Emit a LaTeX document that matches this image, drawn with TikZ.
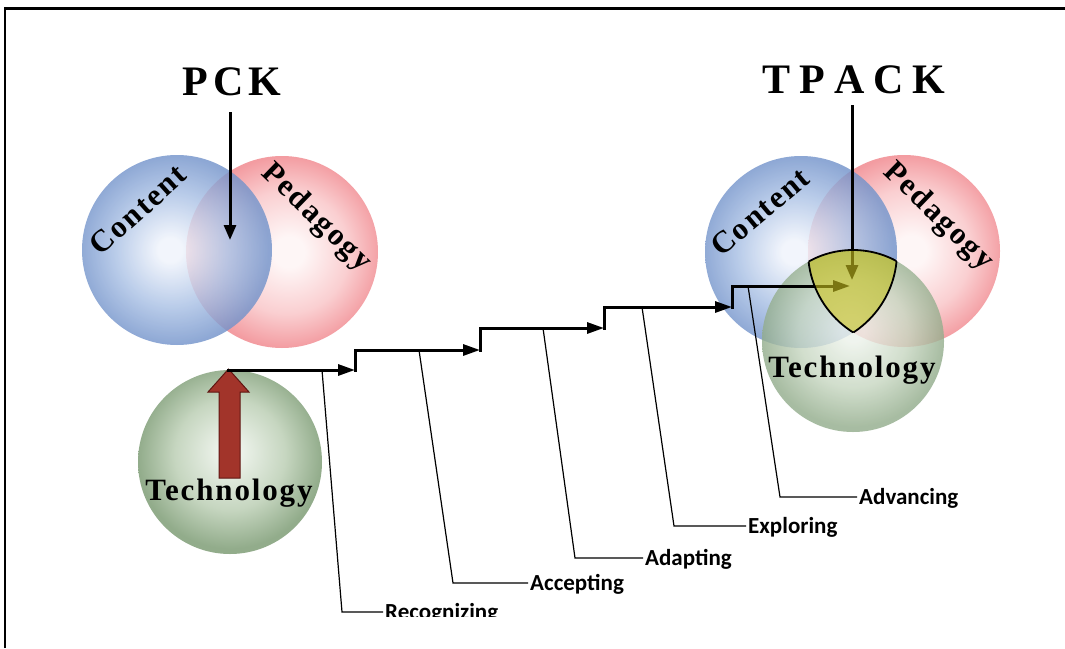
\documentclass[tikz,border=0pt]{standalone}
\usepackage{fontspec}
\setmainfont{Liberation Serif}
\newfontfamily\ringfont[LetterSpace=6]{Liberation Serif}
\newfontfamily\stepfont{Carlito}
\usetikzlibrary{arrows.meta}

% sphere colours: highlight, middle tone, rim
\definecolor{cHi}{RGB}{240,244,252}
\definecolor{cMid}{RGB}{170,193,229}
\definecolor{cEdge}{RGB}{116,148,203}
\definecolor{pHi}{RGB}{254,246,246}
\definecolor{pMid}{RGB}{250,207,209}
\definecolor{pEdge}{RGB}{243,156,161}
\definecolor{tHi}{RGB}{236,242,234}
\definecolor{tMid}{RGB}{198,214,192}
\definecolor{tEdge}{RGB}{146,172,139}
\definecolor{core}{RGB}{205,198,30}
\definecolor{block}{RGB}{162,52,42}
\definecolor{blockline}{RGB}{95,22,18}

\pgfdeclareradialshading{contentball}{\pgfpoint{-2bp}{0bp}}{color(0bp)=(cHi); color(3bp)=(cHi); color(15bp)=(cMid); color(25bp)=(cEdge); color(50bp)=(cEdge)}
\pgfdeclareradialshading{pedball}{\pgfpoint{2bp}{0bp}}{color(0bp)=(pHi); color(4bp)=(pHi); color(16bp)=(pMid); color(25bp)=(pEdge); color(50bp)=(pEdge)}
\pgfdeclareradialshading{techball}{\pgfpoint{0bp}{3bp}}{color(0bp)=(tHi); color(3bp)=(tHi); color(15bp)=(tMid); color(25bp)=(tEdge); color(50bp)=(tEdge)}

\tikzset{
  title/.style={font=\fontsize{42pt}{42pt}\selectfont\bfseries, inner sep=0pt, anchor=base},
  ringtext/.style={font=\ringfont\fontsize{31pt}{31pt}\selectfont\bfseries, inner sep=0pt},
  steplabel/.style={font=\stepfont\fontsize{23pt}{23pt}\selectfont\bfseries, inner sep=2pt, anchor=base west},
  pointer/.style={line width=3pt, -{Triangle[length=15pt,width=12pt]}},
  stair/.style={line width=3pt, line cap=rect, -{Triangle[length=17pt,width=11pt]}},
  leader/.style={line width=1.2pt},
  frame/.style={line width=2.5pt},
}

\begin{document}
\begin{tikzpicture}[x=1pt,y=-1pt]
\useasboundingbox (0,0) rectangle (1065,648);
\fill[white] (0,0) rectangle (1065,648);

% frame
\draw[frame] (5,648) -- (5,8.5) -- (1065,8.5);

% sphere centres
\coordinate (cL) at (177,250);
\coordinate (pL) at (282,252);
\coordinate (tL) at (230,462);
\coordinate (cR) at (801,252);
\coordinate (pR) at (904,251);
\coordinate (tR) at (853,341);

% PCK spheres
\shade[shading=pedball] (pL) circle (96);
\shade[shading=contentball, fill opacity=0.82] (cL) circle (95);
\shade[shading=techball] (tL) circle (92);

% TPACK spheres
\shade[shading=pedball] (pR) circle (96);
\shade[shading=contentball, fill opacity=0.82] (cR) circle (96);
\shade[shading=techball, fill opacity=0.8] (tR) circle (91);

% sphere labels
\node[ringtext, rotate=42] (lblContentL) at (138,210) {Content};
\node[ringtext, rotate=-44] (lblPedL) at (316,218) {Pedagogy};
\node[ringtext, anchor=base] (lblTechL) at (229,500) {Technology};
\node[ringtext, rotate=40] (lblContentR) at (760,212) {Content};
\node[ringtext, rotate=-44] (lblPedR) at (938,217) {Pedagogy};
\node[ringtext, anchor=base] (lblTechR) at (852,377) {Technology};

% titles and their pointers
\node[title] (ttlPCK) at (232,95) {P\hspace{5pt}C\hspace{5pt}K};
\node[title] (ttlTPACK) at (854,93) {T\hspace{9pt}P\hspace{9pt}A\hspace{9pt}C\hspace{9pt}K};
\coordinate (pckTail) at (230,112);
\coordinate (pckTip) at (230,240);
\coordinate (tpackTail) at (852,105);
\coordinate (tpackTip) at (852,280);
\draw[pointer] (pckTail) -- (pckTip);
\draw[pointer] (tpackTail) -- (tpackTip);

% upward block arrow rising from technology
\filldraw[fill=block, draw=blockline, line width=1pt]
  (219,478) -- (240,478) -- (240,392) -- (249,392) -- (228.5,369)
  -- (208,392) -- (219,392) -- cycle;

% staircase of stages
\coordinate (s0) at (228.5,370);
\coordinate (s1) at (355,370);
\coordinate (s2) at (480,350);
\coordinate (s3) at (604,328);
\coordinate (s4) at (732,307);
\coordinate (s5) at (850,286);
\draw[stair] (s0) -- (s1);
\draw[stair] (s1) |- (s2);
\draw[stair] (s2) |- (s3);
\draw[stair] (s3) |- (s4);
\draw[stair] (s4) |- (s5);

% stage labels
\begin{scope}
  \clip (0,0) rectangle (1065,616);
  \node[steplabel] (stepRec) at (383,619) {Recognizing};
\end{scope}
\node[steplabel] (stepAcc) at (528,590) {Accepting};
\node[steplabel] (stepAda) at (643,565) {Adapting};
\node[steplabel] (stepExp) at (746,533) {Exploring};
\node[steplabel] (stepAdv) at (857,504) {Advancing};

% leader lines from the staircase to the labels
\coordinate (r1) at (322,370);  \coordinate (r2) at (342,612);
\coordinate (a1) at (419,350);  \coordinate (a2) at (453,583);
\coordinate (d1) at (543,328);  \coordinate (d2) at (575,558);
\coordinate (e1) at (642,307);  \coordinate (e2) at (674,526);
\coordinate (v1) at (748,286);  \coordinate (v2) at (780,497);
\draw[leader] (r1) -- (r2) -- (r2 -| stepRec.west);
\draw[leader] (a1) -- (a2) -- (a2 -| stepAcc.west);
\draw[leader] (d1) -- (d2) -- (d2 -| stepAda.west);
\draw[leader] (e1) -- (e2) -- (e2 -| stepExp.west);
\draw[leader] (v1) -- (v2) -- (v2 -| stepAdv.west);

% shared core of the three TPACK spheres
\begin{scope}
  \clip (cR) circle (96);
  \clip (pR) circle (96);
  \fill[core, fill opacity=0.6] (tR) circle (91);
\end{scope}
\begin{scope}
  \clip (pR) circle (96); \clip (tR) circle (91);
  \draw[line width=1.8pt] (cR) circle (96);
\end{scope}
\begin{scope}
  \clip (cR) circle (96); \clip (tR) circle (91);
  \draw[line width=1.8pt] (pR) circle (96);
\end{scope}
\begin{scope}
  \clip (cR) circle (96); \clip (pR) circle (96);
  \draw[line width=1.8pt] (tR) circle (91);
\end{scope}
\end{tikzpicture}
\end{document}
